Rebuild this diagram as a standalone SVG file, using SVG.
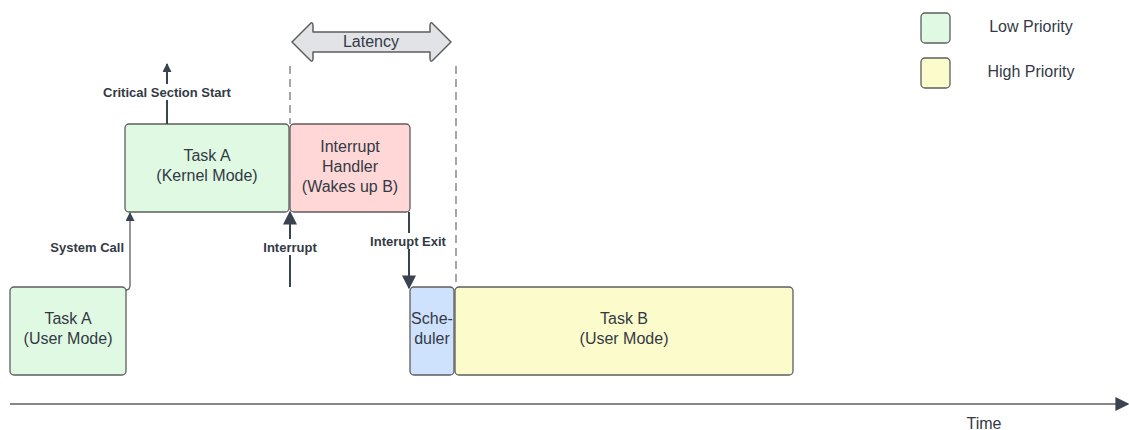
<svg xmlns="http://www.w3.org/2000/svg" width="1129" height="430" viewBox="0 0 1129 430">
  <defs>
    <style>
      .node { stroke: #5e5e5e; stroke-width: 1.3; }
      .green { fill: #e0f9e3; }
      .red { fill: #ffd7d7; }
      .blue { fill: #cfe2fd; }
      .yellow { fill: #fbfbcb; }
      .txt { font-family: "Liberation Sans", Arial, sans-serif; font-size: 16px; fill: #333a45; text-anchor: middle; }
      .lbl { font-family: "Liberation Sans", Arial, sans-serif; font-size: 13px; font-weight: bold; fill: #333a45; text-anchor: middle; }
      .conn { fill: none; stroke: #3b4350; stroke-width: 2; }
      .thin { fill: none; stroke: #5e5e5e; stroke-width: 1.3; }
      .dash { fill: none; stroke: #6b6b6b; stroke-width: 1.2; stroke-dasharray: 8 5; }
    </style>
    <marker id="head" viewBox="0 0 10 10" refX="9" refY="5" markerWidth="11" markerHeight="9" markerUnits="userSpaceOnUse" orient="auto">
      <path d="M0,0 L10,5 L0,10 Z" fill="#3b4350"/>
    </marker>
    <marker id="headBig" viewBox="0 0 10 10" refX="9" refY="5" markerWidth="14" markerHeight="14" markerUnits="userSpaceOnUse" orient="auto">
      <path d="M0,0 L10,5 L0,10 Z" fill="#3b4350"/>
    </marker>
  </defs>

  <rect width="1129" height="430" fill="#ffffff"/>

  <!-- latency bracket -->
  <g id="latency">
    <path d="M292,42 L310,24 Q313,21 313,26 L313,32 L430,32 L430,26 Q430,21 433,24 L451,42 L433,60 Q430,63 430,58 L430,52 L313,52 L313,58 Q313,63 310,60 Z" fill="#e1e3e7" stroke="#5e5e5e" stroke-width="1.5" stroke-linejoin="round"/>
    <text class="txt" x="371" y="47">Latency</text>
  </g>

  <!-- legend -->
  <g id="legend-low">
    <rect class="node green" x="921" y="13" width="29" height="30" rx="4"/>
    <text class="txt" x="1031" y="32">Low Priority</text>
  </g>
  <g id="legend-high">
    <rect class="node yellow" x="921" y="58" width="29" height="30" rx="4"/>
    <text class="txt" x="1031" y="77">High Priority</text>
  </g>

  <!-- task nodes -->
  <g id="task-a-user">
    <rect class="node green" x="10" y="287" width="116" height="88" rx="4"/>
    <text class="txt" x="68" y="324">Task A</text>
    <text class="txt" x="68" y="344">(User Mode)</text>
  </g>
  <g id="task-a-kernel">
    <rect class="node green" x="125" y="124" width="164" height="88" rx="4"/>
    <text class="txt" x="207" y="161">Task A</text>
    <text class="txt" x="207" y="181">(Kernel Mode)</text>
  </g>
  <g id="interrupt-handler">
    <rect class="node red" x="290" y="124" width="120" height="88" rx="4"/>
    <text class="txt" x="350" y="152">Interrupt</text>
    <text class="txt" x="350" y="172">Handler</text>
    <text class="txt" x="350" y="192">(Wakes up B)</text>
  </g>
  <g id="scheduler">
    <rect class="node blue" x="410" y="287" width="44" height="88" rx="4"/>
    <text class="txt" x="432" y="324">Sche-</text>
    <text class="txt" x="432" y="344">duler</text>
  </g>
  <g id="task-b-user">
    <rect class="node yellow" x="455" y="287" width="338" height="88" rx="4"/>
    <text class="txt" x="624" y="324">Task B</text>
    <text class="txt" x="624" y="344">(User Mode)</text>
  </g>

  <!-- connectors -->
  <g id="connectors">
    <path class="dash" d="M290,66 V124"/>
    <path class="dash" d="M456,66 V287"/>

    <path class="conn" d="M167,124 V64" marker-end="url(#head)"/>
    <path class="thin" d="M126,290 Q130,290 130,285 V213" marker-end="url(#head)"/>
    <path class="conn" d="M290,287 V212" marker-end="url(#headBig)"/>
    <path class="conn" d="M409,212 V288" marker-end="url(#headBig)"/>
    <path class="thin" d="M10,404 H1128" marker-end="url(#headBig)"/>

    <rect x="101" y="84" width="132" height="16" fill="#ffffff"/>
    <text class="lbl" x="167" y="97">Critical Section Start</text>
    <text class="lbl" x="124" y="252" style="text-anchor:end">System Call</text>
    <rect x="260" y="239" width="60" height="16" fill="#ffffff"/>
    <text class="lbl" x="290" y="252">Interrupt</text>
    <rect x="368" y="233" width="80" height="16" fill="#ffffff"/>
    <text class="lbl" x="408" y="246">Interupt Exit</text>
    <text class="txt" x="984" y="429">Time</text>
  </g>
</svg>
